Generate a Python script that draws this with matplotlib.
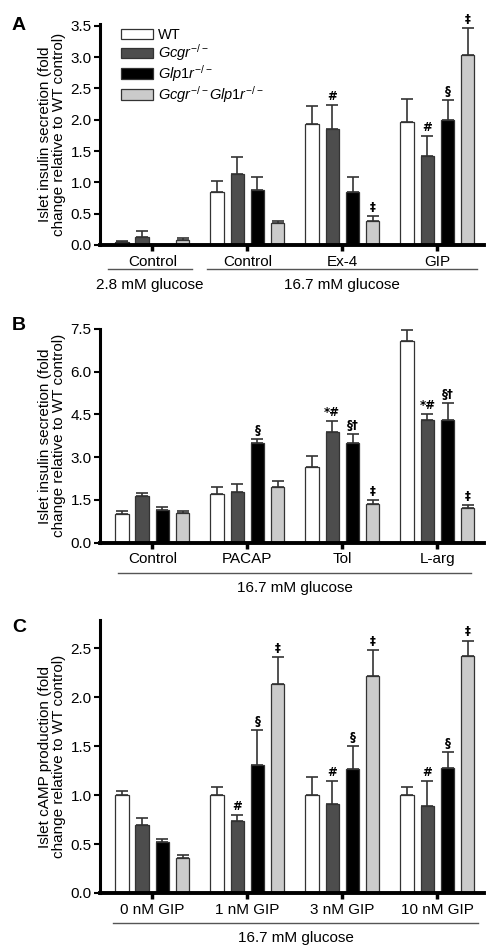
import matplotlib
matplotlib.use('Agg')
import matplotlib.pyplot as plt
import numpy as np

plt.rcParams['font.family'] = ['Liberation Sans', 'DejaVu Sans']
plt.rcParams['mathtext.fontset'] = 'custom'
plt.rcParams['mathtext.rm'] = 'Liberation Sans'
plt.rcParams['mathtext.it'] = 'Liberation Sans:italic'

series_names = ['WT', r'$\mathit{Gcgr}^{-/-}$', r'$\mathit{Glp1r}^{-/-}$',
                r'$\mathit{Gcgr}^{-/-}\mathit{Glp1r}^{-/-}$']
series_colors = ['#ffffff', '#4d4d4d', '#000000', '#cbcbcb']

# panel A
a_cats = ['Control', 'Control', 'Ex-4', 'GIP']
a_vals = [[0.05, 0.85, 1.93, 1.97],
          [0.13, 1.14, 1.85, 1.42],
          [0.0, 0.88, 0.85, 2.00],
          [0.08, 0.35, 0.39, 3.03]]
a_err = [[0.02, 0.17, 0.29, 0.36],
         [0.09, 0.26, 0.38, 0.32],
         [0.0, 0.21, 0.24, 0.31],
         [0.03, 0.03, 0.07, 0.43]]
a_marks = [['', '', '', ''],
           ['', '', '#', '#'],
           ['', '', '', '§'],
           ['', '', '‡', '‡']]

# panel B
b_cats = ['Control', 'PACAP', 'Tol', 'L-arg']
b_vals = [[0.99, 1.72, 2.64, 7.09],
          [1.63, 1.79, 3.89, 4.29],
          [1.15, 3.50, 3.51, 4.29],
          [1.03, 1.94, 1.35, 1.23]]
b_err = [[0.12, 0.24, 0.40, 0.38],
         [0.10, 0.27, 0.37, 0.24],
         [0.11, 0.13, 0.31, 0.61],
         [0.08, 0.24, 0.15, 0.08]]
b_marks = [['', '', '', ''],
           ['', '', '*#', '*#'],
           ['', '§', '§†', '§†'],
           ['', '', '‡', '‡']]

# panel C
c_cats = ['0 nM GIP', '1 nM GIP', '3 nM GIP', '10 nM GIP']
c_vals = [[1.00, 1.00, 1.00, 1.00],
          [0.70, 0.74, 0.91, 0.89],
          [0.52, 1.31, 1.27, 1.28],
          [0.36, 2.14, 2.22, 2.42]]
c_err = [[0.04, 0.08, 0.19, 0.08],
         [0.07, 0.06, 0.23, 0.25],
         [0.03, 0.36, 0.23, 0.16],
         [0.03, 0.27, 0.26, 0.16]]
c_marks = [['', '', '', ''],
           ['', '#', '#', '#'],
           ['', '§', '§', '§'],
           ['', '‡', '‡', '‡']]

offsets = [-0.32, -0.107, 0.107, 0.32]
W = 497.
H = 948.


def make_axes(fig, left, top, right, bottom):
    return fig.add_axes([left / W, 1 - bottom / H, (right - left) / W, (bottom - top) / H])


def draw_panel(ax, cats, vals, errs, marks, ymax, yticks, ylabel):
    x = np.arange(len(cats))
    for i in range(4):
        ax.bar(x + offsets[i], vals[i], width=0.14, color=series_colors[i],
               edgecolor='#333333', linewidth=0.9, label=series_names[i], zorder=2)
        ax.errorbar(x + offsets[i], vals[i], yerr=[np.zeros(4), errs[i]], fmt='none',
                    ecolor='#333333', elinewidth=1.2, capsize=4, capthick=1.2, zorder=1)
        for j in range(4):
            if marks[i][j]:
                ax.annotate(marks[i][j], (x[j] + offsets[i], vals[i][j] + errs[i][j]),
                            xytext=(0, 1.5), textcoords='offset points', ha='center',
                            va='bottom', fontsize=8.5, fontweight='bold',
                            family=['DejaVu Sans'])
    ax.set_xlim(-0.55, 3.49)
    ax.set_ylim(0, ymax)
    ax.set_yticks(yticks)
    ax.set_yticklabels(['%.1f' % t for t in yticks], fontsize=11)
    ax.set_xticks(x)
    ax.set_xticklabels(cats, fontsize=11)
    ax.tick_params(axis='x', length=4, width=2.5, pad=3)
    ax.tick_params(axis='y', length=4, width=1.5, pad=2)
    for s in ['top', 'right']:
        ax.spines[s].set_visible(False)
    ax.spines['left'].set_linewidth(2.2)
    ax.spines['bottom'].set_linewidth(2.8)
    ax.set_ylabel(ylabel, fontsize=11, linespacing=1.0, labelpad=3)


def group_line(fig, x0, x1, y, label, ylab):
    fig.add_artist(plt.Line2D([x0 / W, x1 / W], [1 - y / H, 1 - y / H], color='#555555', lw=1.0))
    fig.text((x0 + x1) / 2 / W, 1 - ylab / H, label, ha='center', va='center', fontsize=11)


fig = plt.figure(figsize=(4.97, 9.48), dpi=100)

axA = make_axes(fig, 100, 24.5, 484, 245)
draw_panel(axA, a_cats, a_vals, a_err, a_marks, 3.52, np.arange(0, 3.51, 0.5),
           'Islet insulin secretion (fold\nchange relative to WT control)')
axA.legend(loc='upper left', bbox_to_anchor=(0.04, 1.01), frameon=False, fontsize=10.5,
           handlelength=2.2, handleheight=0.7, handletextpad=0.3, labelspacing=0.0,
           borderaxespad=0)
group_line(fig, 108, 192, 269, '2.8 mM glucose', 285)
group_line(fig, 207, 477, 269, '16.7 mM glucose', 285)

axB = make_axes(fig, 100, 329, 484, 542.7)
draw_panel(axB, b_cats, b_vals, b_err, b_marks, 7.5, np.arange(0, 7.51, 1.5),
           'Islet insulin secretion (fold\nchange relative to WT control)')
group_line(fig, 118, 471, 573, '16.7 mM glucose', 588)

axC = make_axes(fig, 100, 620, 484, 893)
draw_panel(axC, c_cats, c_vals, c_err, c_marks, 2.79, np.arange(0, 2.51, 0.5),
           'Islet cAMP production (fold\nchange relative to WT control)')
group_line(fig, 113, 478, 923, '16.7 mM glucose', 938)

fig.text(19 / W, 1 - 25 / H, 'A', fontsize=14, fontweight='bold', ha='center', va='center')
fig.text(19 / W, 1 - 325 / H, 'B', fontsize=14, fontweight='bold', ha='center', va='center')
fig.text(19 / W, 1 - 627 / H, 'C', fontsize=14, fontweight='bold', ha='center', va='center')

fig.savefig('out.png', dpi=100)
